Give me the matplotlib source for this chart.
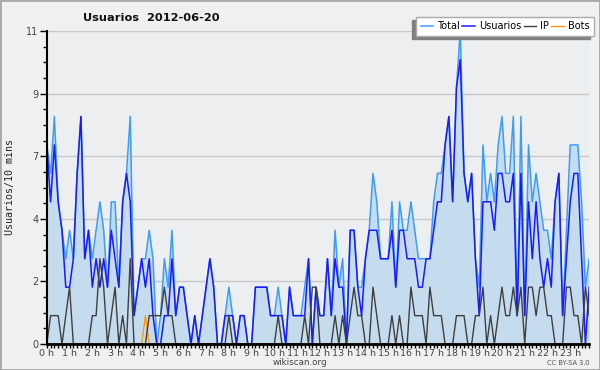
import numpy as np
import matplotlib
matplotlib.use('Agg')
import matplotlib.pyplot as plt
from matplotlib.patches import Rectangle

# data, one value per 10 min (144 points)
hours = ['%d h' % h for h in range(24)]

total = [7, 6, 8, 5, 4, 3, 4, 3, 6, 8, 3, 4,
         3, 4, 5, 4, 2, 5, 5, 2, 5, 6, 8, 1,
         2, 3, 3, 4, 3, 0, 1, 3, 2, 4, 1, 2,
         2, 1, 0, 1, 0, 1, 2, 3, 2, 0, 0, 1,
         2, 1, 0, 1, 1, 0, 0, 2, 2, 2, 2, 1,
         1, 2, 1, 0, 2, 1, 1, 1, 2, 3, 0, 2,
         1, 1, 3, 1, 4, 2, 3, 0, 4, 4, 2, 2,
         3, 4, 6, 5, 3, 3, 3, 5, 2, 5, 4, 4,
         5, 4, 3, 3, 3, 3, 5, 6, 6, 7, 8, 5,
         9, 11, 6, 5, 6, 3, 2, 7, 5, 6, 5, 7,
         8, 6, 6, 8, 1, 8, 1, 7, 5, 6, 5, 4,
         4, 3, 5, 6, 1, 4, 7, 7, 7, 5, 2, 3]

usuarios = [7, 5, 7, 5, 4, 2, 2, 3, 6, 8, 3, 4,
            2, 3, 2, 3, 2, 4, 3, 2, 5, 6, 5, 1,
            2, 3, 2, 3, 1, 0, 0, 1, 1, 3, 1, 2,
            2, 1, 0, 1, 0, 1, 2, 3, 2, 0, 0, 1,
            1, 1, 0, 1, 1, 0, 0, 2, 2, 2, 2, 1,
            1, 1, 1, 0, 2, 1, 1, 1, 1, 3, 0, 2,
            1, 1, 3, 1, 3, 2, 2, 0, 4, 4, 2, 1,
            3, 4, 4, 4, 3, 3, 3, 4, 2, 4, 4, 3,
            3, 3, 2, 2, 3, 3, 4, 5, 5, 7, 8, 5,
            9, 10, 6, 5, 6, 3, 1, 5, 5, 5, 4, 6,
            6, 5, 5, 6, 1, 6, 1, 5, 3, 5, 3, 2,
            3, 2, 5, 6, 1, 3, 5, 6, 6, 3, 0, 2]

ip = [0, 1, 1, 1, 0, 1, 2, 0, 0, 0, 0, 0,
      1, 1, 3, 2, 0, 1, 2, 0, 1, 0, 3, 0,
      0, 0, 0, 1, 1, 1, 1, 2, 1, 1, 0, 0,
      0, 0, 0, 0, 0, 0, 0, 0, 0, 0, 0, 0,
      1, 0, 0, 0, 0, 0, 0, 0, 0, 0, 0, 0,
      0, 1, 0, 0, 0, 0, 0, 0, 1, 0, 2, 2,
      0, 0, 0, 0, 1, 0, 1, 0, 1, 2, 1, 1,
      0, 0, 2, 1, 0, 0, 0, 1, 0, 1, 0, 0,
      2, 1, 1, 1, 0, 2, 1, 1, 1, 0, 0, 0,
      1, 1, 1, 0, 0, 1, 1, 2, 0, 1, 0, 1,
      2, 1, 1, 2, 1, 2, 0, 2, 2, 1, 2, 2,
      1, 1, 0, 0, 0, 2, 2, 1, 1, 0, 2, 1]

bots = [0] * 144
bots[26] = 1

yticks = [0, 2.2, 4.4, 6.6, 8.8, 11]
ylabels = ['0', '2', '4', '7', '9', '11']

x = np.arange(len(total))

fig = plt.figure(figsize=(6, 3.7), dpi=100, facecolor='#f0f0f0')
ax = fig.add_axes([0.078, 0.07, 0.904, 0.846])
ax.set_facecolor('#eceef0')

ax.fill_between(x, 0, total, color='#c5dcef', lw=0, zorder=1)
ax.plot(x, total, color='#3d9df5', lw=1.1, zorder=3, label='Total')
ax.plot(x, usuarios, color='#1a1aff', lw=1.1, zorder=4, label='Usuarios')
ax.plot(x, bots, color='#ff9910', lw=1.0, zorder=2, label='Bots')
ax.plot(x, ip, color='#3f3f3f', lw=1.0, zorder=5, label='IP')

ax.set_xlim(0, 143)
ax.set_ylim(0, 11)
ax.set_xticks(range(0, 144, 6))
ax.set_xticklabels(hours)
ax.set_xticks(range(0, 144), minor=True)
ax.set_yticks(yticks)
ax.set_yticklabels(ylabels)
ax.set_yticks(np.arange(0, 11.01, 0.55), minor=True)

ax.tick_params(axis='x', which='both', length=3, width=1, pad=0.5,
               labelsize=6.8, labelcolor='#444444')
ax.tick_params(axis='y', which='major', length=5, width=1, pad=1,
               labelsize=7, labelcolor='#444444')
ax.tick_params(axis='y', which='minor', length=3, width=1)

ax.grid(axis='y', which='major', color='#c8c8c8', lw=1)
ax.set_axisbelow(True)
for s in ['top', 'right']:
    ax.spines[s].set_visible(False)
ax.spines['left'].set_linewidth(1.5)
ax.spines['bottom'].set_linewidth(2)
ax.spines['left'].set_zorder(6)
ax.spines['bottom'].set_zorder(6)

fig.text(0.253, 0.951, 'Usuarios  2012-06-20', ha='center', va='center',
         fontsize=8.2, fontweight='bold', color='#111111')
fig.text(0.017, 0.495, 'Usuarios/10 mins', rotation=90, ha='center', va='center',
         family='DejaVu Sans Mono', fontsize=7.2, color='#222222')
fig.text(0.5, 0.019, 'wikiscan.org', ha='center', va='center',
         fontsize=6.3, color='#444444')
fig.text(0.982, 0.02, 'CC BY-SA 3.0', ha='right', va='center',
         fontsize=4.8, color='#555555')

# legend, plus a grey copy shifted left/down as the shadow
h, l = ax.get_legend_handles_labels()
order = [0, 1, 3, 2]
h = [h[i] for i in order]
l = [l[i] for i in order]
legkw = dict(ncol=4, loc='upper right', fontsize=7, frameon=True, fancybox=False,
             framealpha=1, borderpad=0.45, handlelength=1.25, handletextpad=0.45,
             columnspacing=0.25, borderaxespad=0)

shadow = fig.legend(h, l, bbox_to_anchor=(0.99 - 4 / 600, 0.954 - 3 / 370),
                    facecolor='#808080', edgecolor='#808080', **legkw)
for line in shadow.get_lines():
    line.set_visible(False)
for t in shadow.get_texts():
    t.set_visible(False)
shadow.set_zorder(4)

leg = fig.legend(h, l, bbox_to_anchor=(0.99, 0.954), facecolor='white',
                 edgecolor='#aaaaaa', **legkw)
leg.get_frame().set_linewidth(1)
leg.set_zorder(5)

# outer frame
fig.patches.append(Rectangle((0, 0), 1, 1, transform=fig.transFigure, fill=False,
                             edgecolor='#a8a8a8', lw=2, zorder=10))

fig.savefig('out.png', dpi=100, facecolor=fig.get_facecolor())
